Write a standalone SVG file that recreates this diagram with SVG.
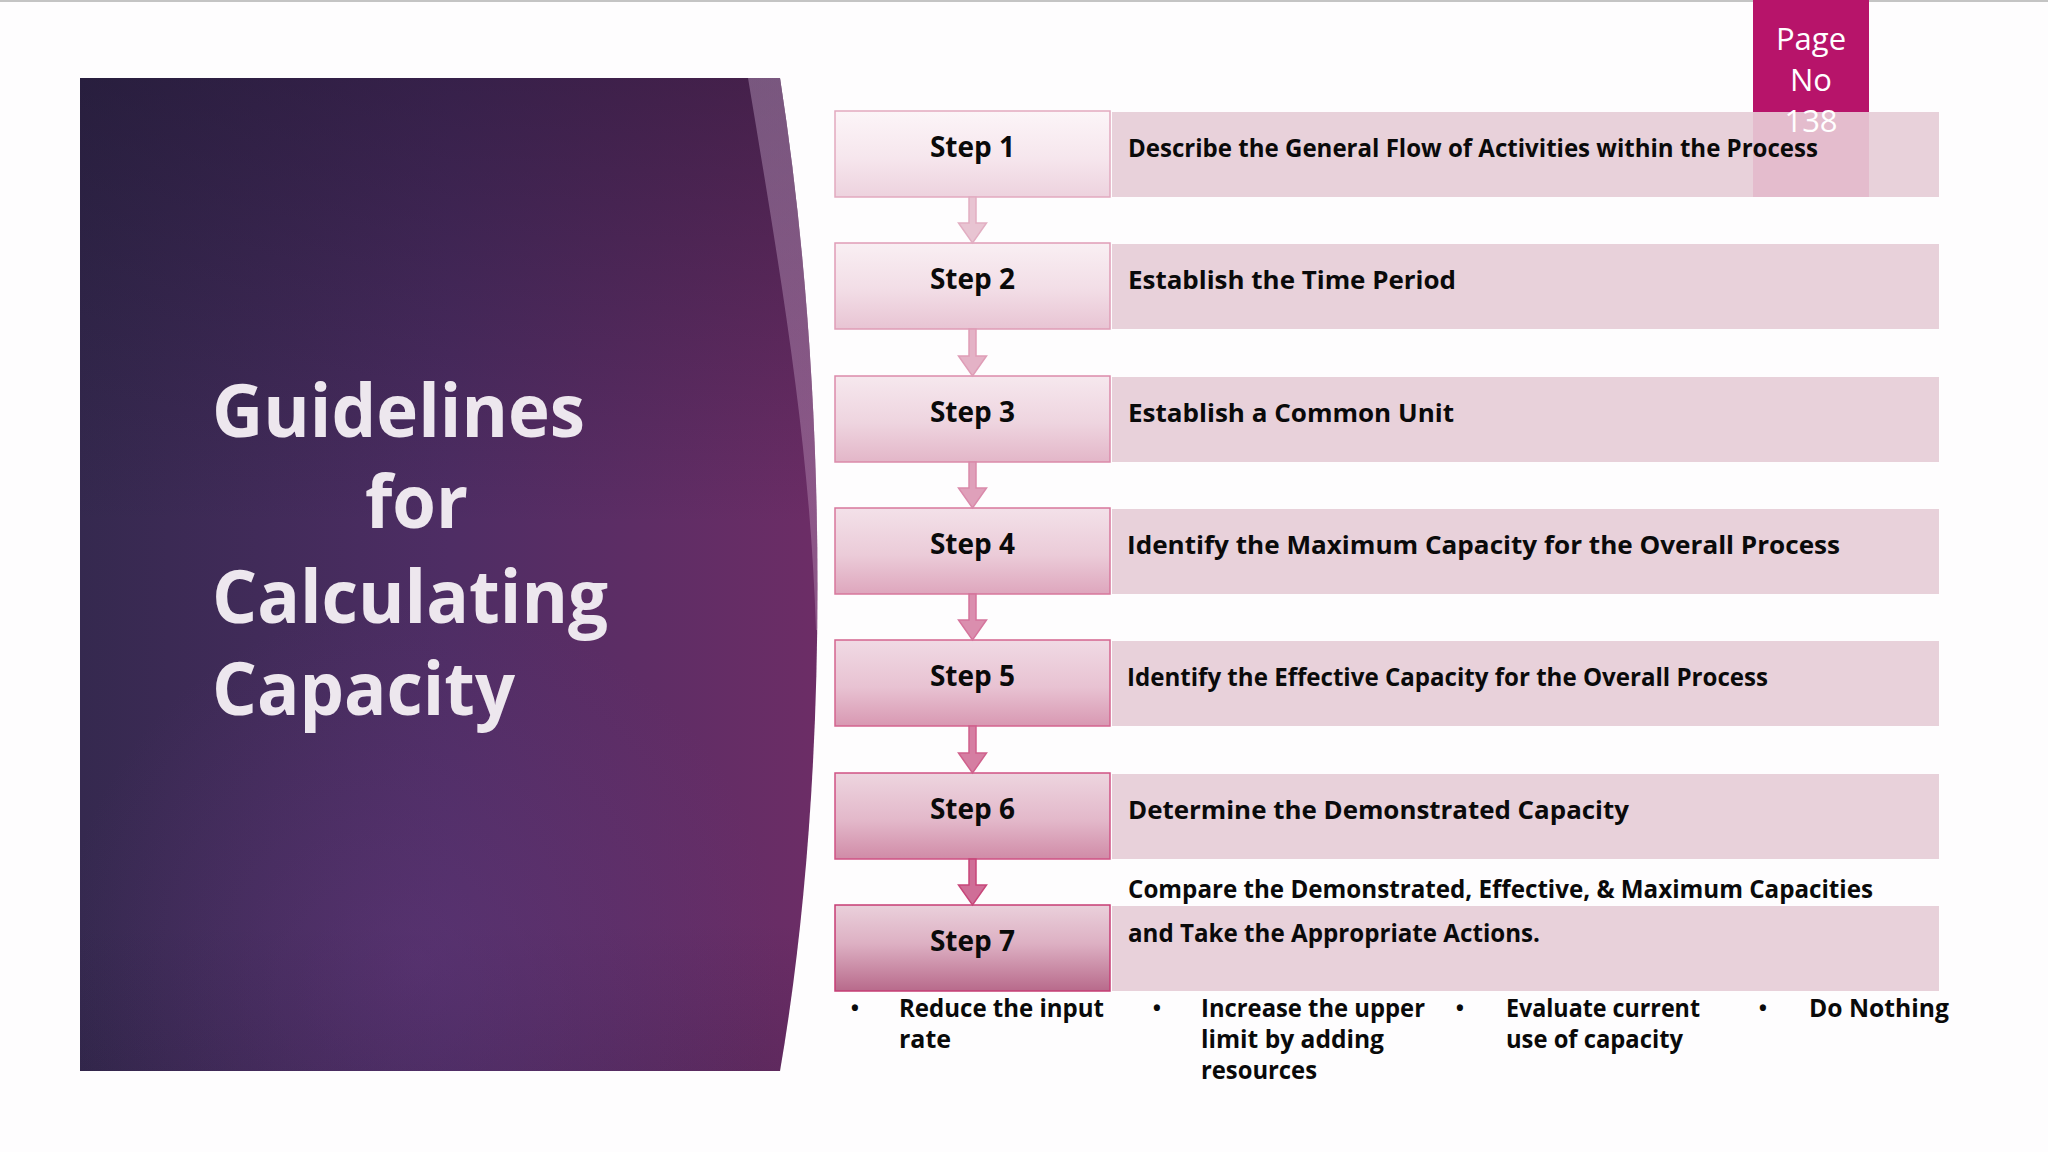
<svg xmlns="http://www.w3.org/2000/svg" width="2048" height="1152" viewBox="0 0 2048 1152">
  <defs>
    <style>
      .title { font-family: "Open Sans", "Noto Sans", "DejaVu Sans", sans-serif; font-weight: 700; font-size: 74px; fill: #EDE7EE; }
      .step { font-family: "Open Sans", "Noto Sans", "DejaVu Sans", sans-serif; font-weight: 700; font-size: 28px; fill: #0A0A0A; text-anchor: middle; }
      .desc { font-family: "Open Sans", "Noto Sans", "DejaVu Sans", sans-serif; font-weight: 700; font-size: 25px; fill: #0A0A0A; }
      .bul { font-family: "Open Sans", "Noto Sans", "DejaVu Sans", sans-serif; font-weight: 700; font-size: 25px; fill: #0A0A0A; }
      .dot { font-family: "Open Sans", "Noto Sans", "DejaVu Sans", sans-serif; font-weight: 700; font-size: 22px; fill: #0A0A0A; text-anchor: middle; }
      .page { font-family: "Open Sans", "Noto Sans", "DejaVu Sans", sans-serif; font-weight: 400; font-size: 31px; fill: #FFFFFF; text-anchor: middle; }
      .bar { fill: #E8D1DA; }
    </style>
    <linearGradient id="panelBase" x1="80" y1="0" x2="816" y2="0" gradientUnits="userSpaceOnUse">
      <stop offset="0" stop-color="#35294F"/>
      <stop offset="0.5" stop-color="#4E2D64"/>
      <stop offset="1" stop-color="#6C2D66"/>
    </linearGradient>
    <linearGradient id="panelShade" x1="0" y1="78" x2="0" y2="1071" gradientUnits="userSpaceOnUse">
      <stop offset="0" stop-color="#160F26" stop-opacity="0.42"/>
      <stop offset="0.45" stop-color="#160F26" stop-opacity="0"/>
      <stop offset="0.85" stop-color="#160F26" stop-opacity="0"/>
      <stop offset="1" stop-color="#160F26" stop-opacity="0.12"/>
    </linearGradient>
    <radialGradient id="panelGlow" cx="420" cy="960" r="360" gradientUnits="userSpaceOnUse">
      <stop offset="0" stop-color="#6A3C86" stop-opacity="0.35"/>
      <stop offset="1" stop-color="#6A3C86" stop-opacity="0"/>
    </radialGradient>
    <linearGradient id="stripe" x1="0" y1="78" x2="0" y2="630" gradientUnits="userSpaceOnUse">
      <stop offset="0" stop-color="#B89ABE" stop-opacity="0.45"/>
      <stop offset="1" stop-color="#C8A0C4" stop-opacity="0.35"/>
    </linearGradient>
    <clipPath id="panelClip">
      <path d="M80,78 L780,78 C830,400 830,780 780,1071 L80,1071 Z"/>
    </clipPath>
    <linearGradient id="g1" x1="0" y1="0" x2="0" y2="1"><stop offset="0" stop-color="#FCF5F8"/><stop offset="0.55" stop-color="#F6E6ED"/><stop offset="1" stop-color="#EDD2DE"/></linearGradient>
    <linearGradient id="g2" x1="0" y1="0" x2="0" y2="1"><stop offset="0" stop-color="#F9EFF3"/><stop offset="0.55" stop-color="#F2DDE6"/><stop offset="1" stop-color="#E8C4D3"/></linearGradient>
    <linearGradient id="g3" x1="0" y1="0" x2="0" y2="1"><stop offset="0" stop-color="#F6E8EE"/><stop offset="0.55" stop-color="#EED4DF"/><stop offset="1" stop-color="#E3B6C8"/></linearGradient>
    <linearGradient id="g4" x1="0" y1="0" x2="0" y2="1"><stop offset="0" stop-color="#F3E1E9"/><stop offset="0.55" stop-color="#EBCBD8"/><stop offset="1" stop-color="#DEA6BD"/></linearGradient>
    <linearGradient id="g5" x1="0" y1="0" x2="0" y2="1"><stop offset="0" stop-color="#F0DAE4"/><stop offset="0.55" stop-color="#E8C2D2"/><stop offset="1" stop-color="#D898B2"/></linearGradient>
    <linearGradient id="g6" x1="0" y1="0" x2="0" y2="1"><stop offset="0" stop-color="#EDD5DF"/><stop offset="0.55" stop-color="#E3B8CA"/><stop offset="1" stop-color="#D08BA7"/></linearGradient>
    <linearGradient id="g7" x1="0" y1="0" x2="0" y2="1"><stop offset="0" stop-color="#EAD0DB"/><stop offset="0.45" stop-color="#DDB0C3"/><stop offset="1" stop-color="#B86A8B"/></linearGradient>
  </defs>

  <rect x="0" y="0" width="2048" height="1152" fill="#FEFDFE"/>
  <rect x="0" y="0" width="2048" height="2" fill="#C4C4C4"/>

  <g id="title-panel">
    <path d="M80,78 L780,78 C830,400 830,780 780,1071 L80,1071 Z" fill="url(#panelBase)"/>
    <path d="M80,78 L780,78 C830,400 830,780 780,1071 L80,1071 Z" fill="url(#panelShade)"/>
    <path d="M80,78 L780,78 C830,400 830,780 780,1071 L80,1071 Z" fill="url(#panelGlow)"/>
    <path d="M748,78 C785,300 810,450 816,630 L900,630 L900,78 Z" fill="url(#stripe)" clip-path="url(#panelClip)"/>
    <text class="title" x="212" y="437" textLength="373" lengthAdjust="spacingAndGlyphs">Guidelines</text>
    <text class="title" x="365" y="528" textLength="103" lengthAdjust="spacingAndGlyphs">for</text>
    <text class="title" x="212" y="623" textLength="396" lengthAdjust="spacingAndGlyphs">Calculating</text>
    <text class="title" x="212" y="715" textLength="303" lengthAdjust="spacingAndGlyphs">Capacity</text>
  </g>

  <g id="page-no-box">
    <rect x="1753" y="0" width="116" height="112" fill="#B7146A"/>
  </g>

  <g id="step1">
    <rect x="835" y="111" width="275" height="86" fill="url(#g1)" stroke="#E2A9BF" stroke-width="1.5"/>
    <text class="step" x="972.5" y="157">Step 1</text>
    <rect class="bar" x="1112" y="112" width="827" height="85"/>
    <rect x="1753" y="112" width="116" height="85" fill="#C8327A" fill-opacity="0.13"/>
    <text class="desc" x="1128" y="157" textLength="690" lengthAdjust="spacingAndGlyphs">Describe the General Flow of Activities within the Process</text>
  </g>

  <g id="page-no-text">
    <text class="page" x="1811" y="50">Page</text>
    <text class="page" x="1811" y="91">No</text>
    <text class="page" x="1811" y="132">138</text>
  </g>

  <g id="step2">
    <rect x="835" y="243" width="275" height="86" fill="url(#g2)" stroke="#DF9CB6" stroke-width="1.5"/>
    <text class="step" x="972.5" y="289">Step 2</text>
    <rect class="bar" x="1112" y="244" width="827" height="85"/>
    <text class="desc" x="1128" y="289" textLength="328" lengthAdjust="spacingAndGlyphs">Establish the Time Period</text>
  </g>

  <g id="step3">
    <rect x="835" y="376" width="275" height="86" fill="url(#g3)" stroke="#DB8AAA" stroke-width="1.5"/>
    <text class="step" x="972.5" y="422">Step 3</text>
    <rect class="bar" x="1112" y="377" width="827" height="85"/>
    <text class="desc" x="1128" y="422" textLength="326" lengthAdjust="spacingAndGlyphs">Establish a Common Unit</text>
  </g>

  <g id="step4">
    <rect x="835" y="508" width="275" height="86" fill="url(#g4)" stroke="#D7779C" stroke-width="1.5"/>
    <text class="step" x="972.5" y="554">Step 4</text>
    <rect class="bar" x="1112" y="509" width="827" height="85"/>
    <text class="desc" x="1127" y="554" textLength="713" lengthAdjust="spacingAndGlyphs">Identify the Maximum Capacity for the Overall Process</text>
  </g>

  <g id="step5">
    <rect x="835" y="640" width="275" height="86" fill="url(#g5)" stroke="#D4648F" stroke-width="1.5"/>
    <text class="step" x="972.5" y="686">Step 5</text>
    <rect class="bar" x="1112" y="641" width="827" height="85"/>
    <text class="desc" x="1127" y="686" textLength="641" lengthAdjust="spacingAndGlyphs">Identify the Effective Capacity for the Overall Process</text>
  </g>

  <g id="step6">
    <rect x="835" y="773" width="275" height="86" fill="url(#g6)" stroke="#CF5284" stroke-width="1.5"/>
    <text class="step" x="972.5" y="819">Step 6</text>
    <rect class="bar" x="1112" y="774" width="827" height="85"/>
    <text class="desc" x="1128" y="819" textLength="501" lengthAdjust="spacingAndGlyphs">Determine the Demonstrated Capacity</text>
  </g>

  <g id="step7">
    <rect x="835" y="905" width="275" height="86" fill="url(#g7)" stroke="#C63C74" stroke-width="1.5"/>
    <text class="step" x="972.5" y="951">Step 7</text>
    <rect class="bar" x="1112" y="906" width="827" height="85"/>
    <text class="desc" x="1128" y="898" textLength="745" lengthAdjust="spacingAndGlyphs">Compare the Demonstrated, Effective, &amp; Maximum Capacities</text>
    <text class="desc" x="1128" y="942" textLength="412" lengthAdjust="spacingAndGlyphs">and Take the Appropriate Actions.</text>
  </g>

  <g id="actions">
    <text class="dot" x="855" y="1016">•</text>
    <text class="bul" x="899" y="1017" textLength="205" lengthAdjust="spacingAndGlyphs">Reduce the input</text>
    <text class="bul" x="899" y="1048">rate</text>
    <text class="dot" x="1157" y="1016">•</text>
    <text class="bul" x="1201" y="1017" textLength="224" lengthAdjust="spacingAndGlyphs">Increase the upper</text>
    <text class="bul" x="1201" y="1048" textLength="183" lengthAdjust="spacingAndGlyphs">limit by adding</text>
    <text class="bul" x="1201" y="1079" textLength="116" lengthAdjust="spacingAndGlyphs">resources</text>
    <text class="dot" x="1460" y="1016">•</text>
    <text class="bul" x="1506" y="1017" textLength="194" lengthAdjust="spacingAndGlyphs">Evaluate current</text>
    <text class="bul" x="1506" y="1048" textLength="177" lengthAdjust="spacingAndGlyphs">use of capacity</text>
    <text class="dot" x="1763" y="1016">•</text>
    <text class="bul" x="1809" y="1017" textLength="140" lengthAdjust="spacingAndGlyphs">Do Nothing</text>
  </g>

  <g id="connectors" stroke-width="1.5" stroke-linejoin="miter">
    <path d="M969,197 L976,197 L976,223 L986.5,223 L972.5,243 L958.5,223 L969,223 Z" fill="#E8C4D2" stroke="#E2AEC2"/>
    <path d="M969,329 L976,329 L976,356 L986.5,356 L972.5,376 L958.5,356 L969,356 Z" fill="#E4B2C6" stroke="#DF9DB7"/>
    <path d="M969,462 L976,462 L976,488 L986.5,488 L972.5,508 L958.5,488 L969,488 Z" fill="#DFA0BA" stroke="#DA8AAB"/>
    <path d="M969,594 L976,594 L976,620 L986.5,620 L972.5,640 L958.5,620 L969,620 Z" fill="#DA8EAE" stroke="#D5749C"/>
    <path d="M969,726 L976,726 L976,753 L986.5,753 L972.5,773 L958.5,753 L969,753 Z" fill="#D57EA2" stroke="#D0608C"/>
    <path d="M969,859 L976,859 L976,885 L986.5,885 L972.5,905 L958.5,885 L969,885 Z" fill="#CF6E97" stroke="#C8467A"/>
  </g>
</svg>
